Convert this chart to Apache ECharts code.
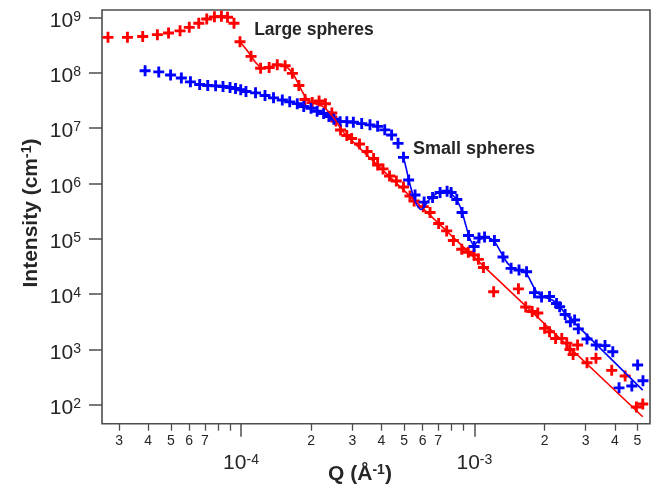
<!DOCTYPE html>
<html>
<head>
<meta charset="utf-8">
<script src="https://cdn.jsdelivr.net/npm/echarts@6/dist/echarts.min.js"></script>
<style>
  html, body { margin: 0; padding: 0; background: #fff; }
  #main { width: 657px; height: 490px; }
</style>
</head>
<body>
<div id="main"></div>
<script>
// large spheres, measured points
var redQ = [2.69e-5, 3.26e-5, 3.79e-5, 4.38e-5, 4.89e-5, 5.48e-5, 6.00e-5, 6.59e-5, 7.13e-5, 7.69e-5,
  8.24e-5, 8.75e-5, 9.33e-5, 9.90e-5, 1.104e-4, 1.213e-4, 1.32e-4, 1.43e-4, 1.545e-4, 1.66e-4,
  1.77e-4, 1.88e-4, 2.02e-4, 2.16e-4, 2.30e-4, 2.45e-4, 2.55e-4, 2.67e-4, 2.84e-4, 2.98e-4,
  3.22e-4, 3.47e-4, 3.70e-4, 3.85e-4, 4.06e-4, 4.33e-4, 4.63e-4, 4.97e-4, 5.30e-4, 5.52e-4,
  6.04e-4, 6.46e-4, 7.03e-4, 7.61e-4, 8.13e-4, 8.83e-4, 9.42e-4, 9.97e-4, 1.04e-3, 1.094e-3,
  1.21e-3, 1.545e-3, 1.66e-3, 1.77e-3, 1.87e-3, 2.00e-3, 2.10e-3, 2.23e-3, 2.37e-3, 2.49e-3,
  2.57e-3, 2.65e-3, 2.77e-3, 3.04e-3, 3.32e-3, 3.88e-3, 4.43e-3, 4.95e-3, 5.27e-3];
var redI = [4.35e8, 4.35e8, 4.50e8, 4.85e8, 5.20e8, 5.70e8, 6.59e8, 7.80e8, 9.31e8, 1.02e9,
  1.04e9, 1.00e9, 7.80e8, 3.62e8, 1.97e8, 1.20e8, 1.24e8, 1.39e8, 1.33e8, 9.73e7,
  5.86e7, 3.27e7, 2.88e7, 3.08e7, 2.74e7, 1.87e7, 1.34e7, 9.19e6, 7.31e6, 6.45e6,
  5.13e6, 3.76e6, 2.81e6, 2.14e6, 1.82e6, 1.36e6, 1.10e6, 8.58e5, 5.90e5, 4.80e5,
  3.79e5, 2.97e5, 1.88e5, 1.38e5, 9.27e4, 6.43e4, 5.69e4, 5.07e4, 4.24e4, 3.01e4,
  1.10e4, 1.24e4, 5.82e3, 4.83e3, 4.54e3, 2.40e3, 2.08e3, 1.57e3, 1.58e3, 1.30e3,
  993, 807, 1.20e3, 574, 689, 418, 330, 90.8, 103];

// large spheres, fit
var redFitQ = [9.90e-5, 1.050e-4, 1.104e-4, 1.160e-4, 1.218e-4, 1.280e-4, 1.345e-4, 1.427e-4, 1.514e-4,
  1.590e-4, 1.671e-4, 1.755e-4, 1.844e-4, 1.937e-4, 2.035e-4, 2.138e-4, 2.246e-4, 2.360e-4, 2.479e-4,
  2.604e-4, 2.791e-4, 5.27e-3];
var redFitI = [3.58e8, 2.67e8, 2.00e8, 1.49e8, 1.24e8, 1.21e8, 1.29e8, 1.37e8, 1.35e8,
  1.21e8, 9.44e7, 6.50e7, 4.29e7, 3.21e7, 2.83e7, 2.66e7, 2.44e7, 2.03e7, 1.58e7,
  1.18e7, 7.72e6, 60.7];

// small spheres, measured points
var blueQ = [3.88e-5, 4.44e-5, 4.99e-5, 5.55e-5, 6.07e-5, 6.65e-5, 7.20e-5, 7.78e-5, 8.37e-5, 8.97e-5,
  9.47e-5, 9.97e-5, 1.05e-4, 1.154e-4, 1.267e-4, 1.378e-4, 1.503e-4, 1.617e-4, 1.742e-4, 1.857e-4,
  1.995e-4, 2.12e-4, 2.26e-4, 2.38e-4, 2.50e-4, 2.66e-4, 2.84e-4, 3.03e-4, 3.29e-4, 3.57e-4,
  3.85e-4, 4.13e-4, 4.42e-4, 4.71e-4, 4.97e-4, 5.23e-4, 5.57e-4, 6.09e-4, 6.62e-4, 7.13e-4,
  7.64e-4, 7.95e-4, 8.41e-4, 8.86e-4, 9.44e-4, 9.97e-4, 1.047e-3, 1.106e-3, 1.219e-3, 1.327e-3,
  1.437e-3, 1.554e-3, 1.674e-3, 1.811e-3, 1.941e-3, 2.10e-3, 2.25e-3, 2.32e-3, 2.45e-3, 2.58e-3,
  2.69e-3, 2.79e-3, 3.04e-3, 3.33e-3, 3.63e-3, 3.92e-3, 4.17e-3, 4.73e-3, 5.01e-3, 5.28e-3];
var blueI = [1.08e8, 1.03e8, 9.06e7, 8.00e7, 6.83e7, 6.11e7, 5.86e7, 5.78e7, 5.62e7, 5.39e7,
  5.17e7, 4.90e7, 4.56e7, 4.32e7, 3.87e7, 3.51e7, 3.21e7, 2.97e7, 2.75e7, 2.44e7,
  2.27e7, 2.01e7, 1.83e7, 1.61e7, 1.44e7, 1.30e7, 1.30e7, 1.27e7, 1.20e7, 1.14e7,
  1.07e7, 9.27e6, 7.46e6, 5.28e6, 2.95e6, 1.15e6, 6.15e5, 4.59e5, 5.54e5, 6.82e5,
  7.18e5, 6.82e5, 5.11e5, 2.97e5, 1.14e5, 7.21e4, 1.03e5, 1.07e5, 9.27e4, 4.67e4,
  2.91e4, 2.71e4, 2.53e4, 1.06e4, 8.83e3, 9.02e3, 6.74e3, 5.89e3, 4.26e3, 3.16e3,
  3.39e3, 2.35e3, 1.54e3, 1.20e3, 1.17e3, 906, 202, 218, 521, 271];

// small spheres, fit
var blueFitQ = [4.97e-4, 5.10e-4, 5.25e-4, 5.41e-4, 5.57e-4, 5.74e-4, 5.91e-4, 6.09e-4, 6.33e-4, 6.65e-4,
  6.99e-4, 7.34e-4, 7.71e-4, 8.10e-4, 8.51e-4, 8.86e-4, 9.21e-4, 9.58e-4, 9.97e-4, 1.037e-3,
  1.090e-3, 1.145e-3, 1.214e-3, 1.276e-3, 1.341e-3, 1.409e-3, 1.480e-3, 1.570e-3, 1.665e-3, 1.750e-3,
  1.838e-3, 1.931e-3, 2.05e-3, 2.175e-3, 2.31e-3, 2.45e-3, 5.27e-3];
var blueFitI = [2.93e6, 1.89e6, 1.10e6, 6.97e5, 4.80e5, 3.73e5, 3.37e5, 3.73e5, 4.80e5, 5.90e5,
  6.82e5, 7.26e5, 6.97e5, 6.03e5, 4.59e5, 3.03e5, 1.69e5, 9.86e4, 7.68e4, 9.07e4,
  1.03e5, 1.03e5, 9.07e4, 6.50e4, 4.47e4, 3.34e4, 2.89e4, 2.66e4, 2.39e4, 1.65e4,
  1.13e4, 9.40e3, 8.47e3, 7.64e3, 6.08e3, 4.48e3, 184];

// axes
var xRange = [2.536e-5, 5.66e-3];
var yRange = [45.4, 1.355e9];
var xMinorTicks = [3e-5, 4e-5, 5e-5, 6e-5, 7e-5, 8e-5, 9e-5,
  2e-4, 3e-4, 4e-4, 5e-4, 6e-4, 7e-4, 8e-4, 9e-4,
  2e-3, 3e-3, 4e-3, 5e-3];
var xMinorLabels = [3e-5, 4e-5, 5e-5, 6e-5, 7e-5,
  2e-4, 3e-4, 4e-4, 5e-4, 6e-4, 7e-4,
  2e-3, 3e-3, 4e-3, 5e-3];
var xDecades = [1e-4, 1e-3];
var yDecades = [1e2, 1e3, 1e4, 1e5, 1e6, 1e7, 1e8, 1e9];

var textColor = '#262626';
var frameColor = '#4d4d4d';
var font = 'Liberation Sans, Arial, sans-serif';
var plus = 'path://M3.7,0H6.3V3.7H10V6.3H6.3V10H3.7V6.3H0V3.7H3.7Z';

function pairs(q, v) {
  return q.map(function (x, i) { return [x, v[i]]; });
}
function lg(arr) {
  return arr.map(function (v) { return Math.log10(v); });
}
var powRich = {
  b: { fontSize: 21, lineHeight: 22, color: textColor, fontFamily: font },
  s: { fontSize: 14, lineHeight: 7, verticalAlign: 'top', color: textColor, fontFamily: font }
};
function powLabel(v) {
  return '{b|10}{s|' + Math.round(v) + '}';
}

var chart = echarts.init(document.getElementById('main'));

var option = {
  animation: false,
  backgroundColor: '#fff',
  grid: {
    left: 102, right: 7, top: 10, bottom: 66.3,
    show: true, borderColor: frameColor, borderWidth: 1.6, backgroundColor: 'transparent'
  },
  xAxis: [
    { // data axis
      type: 'log', logBase: 10, min: xRange[0], max: xRange[1],
      axisLine: { show: false }, axisTick: { show: false },
      axisLabel: { show: false }, splitLine: { show: false }
    },
    { // minor ticks 2..9
      type: 'value', position: 'bottom', min: Math.log10(xRange[0]), max: Math.log10(xRange[1]),
      axisLine: { show: false }, splitLine: { show: false },
      axisTick: { show: true, length: 7, customValues: lg(xMinorTicks),
        lineStyle: { color: frameColor, width: 1.3 } },
      axisLabel: { show: true, customValues: lg(xMinorLabels), margin: 10,
        fontSize: 14, color: textColor, fontFamily: font,
        formatter: function (v) {
          var p = Math.floor(v + 1e-9);
          return String(Math.round(Math.pow(10, v - p)));
        } }
    },
    { // decades
      type: 'value', position: 'bottom', min: Math.log10(xRange[0]), max: Math.log10(xRange[1]),
      axisLine: { show: false }, splitLine: { show: false },
      axisTick: { show: true, length: 13, customValues: lg(xDecades),
        lineStyle: { color: frameColor, width: 1.5 } },
      axisLabel: { show: true, customValues: lg(xDecades), margin: 29,
        formatter: powLabel, rich: powRich }
    }
  ],
  yAxis: [
    {
      type: 'log', logBase: 10, min: yRange[0], max: yRange[1],
      axisLine: { show: false }, axisTick: { show: false },
      axisLabel: { show: false }, splitLine: { show: false }
    },
    {
      type: 'value', position: 'left', min: Math.log10(yRange[0]), max: Math.log10(yRange[1]),
      axisLine: { show: false }, splitLine: { show: false },
      axisTick: { show: true, length: 13, customValues: lg(yDecades),
        lineStyle: { color: frameColor, width: 1.5 } },
      axisLabel: { show: true, customValues: lg(yDecades), margin: 21,
        padding: [7, 0, 0, 0], formatter: powLabel, rich: powRich }
    }
  ],
  graphic: [
    {
      type: 'text', x: 31, y: 213, rotation: Math.PI / 2,
      style: {
        text: 'Intensity (cm{s|-1})', fill: textColor, fontSize: 21, fontWeight: 'bold',
        fontFamily: font, lineHeight: 22, align: 'center', verticalAlign: 'middle',
        rich: { s: { fontSize: 14, fontWeight: 'bold', lineHeight: 7, verticalAlign: 'top', fill: textColor, fontFamily: font } }
      }
    },
    {
      type: 'text', x: 360, y: 474,
      style: {
        text: 'Q (Å{s|-1})', fill: textColor, fontSize: 21, fontWeight: 'bold',
        fontFamily: font, lineHeight: 22, align: 'center', verticalAlign: 'middle',
        rich: { s: { fontSize: 14, fontWeight: 'bold', lineHeight: 7, verticalAlign: 'top', fill: textColor, fontFamily: font } }
      }
    },
    {
      type: 'text', x: 314, y: 30.5,
      style: { text: 'Large spheres', fill: textColor, fontSize: 17.5, fontWeight: 'bold',
        fontFamily: font, align: 'center', verticalAlign: 'middle' }
    },
    {
      type: 'text', x: 474, y: 149.5,
      style: { text: 'Small spheres', fill: textColor, fontSize: 18, fontWeight: 'bold',
        fontFamily: font, align: 'center', verticalAlign: 'middle' }
    }
  ],
  series: [
    {
      name: 'Large spheres', type: 'scatter', xAxisIndex: 0, yAxisIndex: 0,
      symbol: plus, symbolSize: 11, itemStyle: { color: '#ff0000', opacity: 1 },
      data: pairs(redQ, redI)
    },
    {
      name: 'Large spheres fit', type: 'line', xAxisIndex: 0, yAxisIndex: 0,
      showSymbol: false, smooth: 0.3, lineStyle: { color: '#ff0000', width: 1.6 },
      data: pairs(redFitQ, redFitI)
    },
    {
      name: 'Small spheres', type: 'scatter', xAxisIndex: 0, yAxisIndex: 0,
      symbol: plus, symbolSize: 11, itemStyle: { color: '#0000ff', opacity: 1 },
      data: pairs(blueQ, blueI)
    },
    {
      name: 'Small spheres fit', type: 'line', xAxisIndex: 0, yAxisIndex: 0,
      showSymbol: false, smooth: 0.3, lineStyle: { color: '#0000ff', width: 1.6 },
      data: pairs(blueFitQ, blueFitI)
    }
  ]
};

chart.setOption(option);
</script>
</body>
</html>
